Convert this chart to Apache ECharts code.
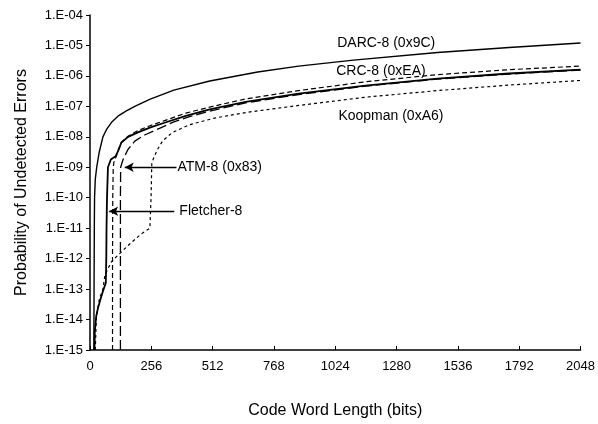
<!DOCTYPE html>
<html>
<head>
<meta charset="utf-8">
<script src="https://cdn.jsdelivr.net/npm/echarts@6/dist/echarts.min.js"></script>
<style>
  html, body { margin: 0; padding: 0; background: #fff; }
  #chart { width: 598px; height: 424px; }
</style>
</head>
<body>
<div id="chart"></div>
<script>
// code word length (bits) vs probability of undetected errors
const xTicks = [0, 256, 512, 768, 1024, 1280, 1536, 1792, 2048];

const darc = [
  [16, 1e-15], [17, 1e-13], [18, 1e-11], [19, 1e-10], [22, 4e-10], [28, 1e-9],
  [38, 3e-9], [54, 1e-8], [70, 1.8e-8], [90, 3e-8], [120, 5e-8], [150, 7e-8],
  [187, 1e-7], [249, 1.7e-7], [350, 3.4e-7], [500, 6.8e-7], [700, 1.35e-6],
  [871, 2.1e-6], [1100, 3.3e-6], [1451, 5.9e-6], [1750, 8.6e-6], [2048, 1.2e-5]
];
const fletcher = [
  [19, 1e-15], [20, 4e-15], [26, 1.3e-14], [34, 2.5e-14], [45, 5e-14], [55, 9e-14],
  [66, 1.6e-13], [68, 1e-12], [69, 1e-11], [71, 1e-10], [75, 1e-9], [87, 1.8e-9],
  [107, 2.3e-9], [117, 3.4e-9], [131, 6.5e-9], [159, 1e-8], [200, 1.4e-8],
  [250, 2e-8], [311, 2.9e-8], [400, 4.9e-8], [500, 8e-8], [650, 1.4e-7],
  [871, 2.6e-7], [1150, 4.8e-7], [1451, 8.2e-7], [1750, 1.2e-6], [2048, 1.6e-6]
];
const crc = [
  [94, 1e-15], [94, 1e-12], [95, 1e-10], [97, 1e-9], [100, 1.5e-9], [107, 2e-9],
  [117, 3.4e-9], [131, 6.5e-9], [159, 1.05e-8], [200, 1.6e-8], [250, 2.3e-8],
  [311, 3.4e-8], [400, 6e-8], [500, 9.5e-8], [650, 1.75e-7], [871, 3.3e-7],
  [1150, 6.4e-7], [1451, 1.1e-6], [1750, 1.6e-6], [2048, 2.1e-6]
];
const atm = [
  [127, 1e-15], [127, 1e-12], [127, 1e-10], [128, 1e-9], [138, 1.8e-9],
  [159, 3.9e-9], [187, 7.2e-9], [228, 1.15e-8], [290, 1.9e-8], [350, 3.1e-8],
  [415, 4.6e-8], [500, 7e-8], [650, 1.3e-7], [871, 2.45e-7], [1150, 4.6e-7],
  [1451, 7.9e-7], [1750, 1.15e-6], [2048, 1.55e-6]
];
const koopman = [
  [22, 1e-15], [24, 3e-15], [26, 1e-14], [33, 2.5e-14], [40, 5e-14], [54, 1e-13],
  [62, 2.8e-13], [75, 4.7e-13], [90, 8e-13], [102, 1e-12], [117, 1.3e-12],
  [159, 2.7e-12], [214, 6.5e-12], [250, 1e-11], [255, 1e-10], [258, 1.4e-9],
  [270, 2.4e-9], [283, 4e-9], [304, 7.5e-9], [345, 1.4e-8], [415, 2.5e-8],
  [525, 4.2e-8], [663, 6.5e-8], [871, 1.07e-7], [1150, 2e-7], [1451, 3.3e-7],
  [1750, 5e-7], [2048, 7.1e-7]
];

// label text anchored at data coordinates
const labels = [
  { text: 'DARC-8 (0x9C)', at: [1032, 1.2e-5] },
  { text: 'CRC-8 (0xEA)', at: [1028, 1.4e-6] },
  { text: 'Koopman (0xA6)', at: [1037, 4.7e-8] },
  { text: 'ATM-8 (0x83)', at: [365, 1e-9] },
  { text: 'Fletcher-8', at: [373, 3.6e-11] }
];
const arrows = [
  { from: [361, 1e-9], to: [145, 1e-9] },
  { from: [352, 3.6e-11], to: [80, 3.6e-11] }
];

const font = 'Liberation Sans, Arial, sans-serif';

function expLabel(v) {
  const e = Math.round(Math.log10(v));
  return '1.E' + (e < 0 ? '-' : '+') + String(Math.abs(e)).padStart(2, '0');
}

function lineSeries(name, data, type, width) {
  return {
    name,
    type: 'line',
    data,
    showSymbol: false,
    symbol: 'none',
    smooth: false,
    lineStyle: { color: '#000', width, type, join: 'round' },
    silent: true
  };
}

const chart = echarts.init(document.getElementById('chart'));

const atmSeries = lineSeries('ATM-8 (0x83)', atm, [10, 4], 1.3);
atmSeries.markLine = {
  silent: true,
  symbolSize: [7, 9],
  lineStyle: { color: '#000', width: 1.3, type: 'solid' },
  label: { show: false },
  data: arrows.map(a => [
    { coord: a.from, symbol: 'none' },
    { coord: a.to, symbol: 'arrow' }
  ])
};

chart.setOption({
  animation: false,
  grid: { left: 90, right: 14, top: 15, bottom: 73 },
  xAxis: {
    type: 'value',
    min: 0,
    max: 2048,
    interval: 256,
    name: 'Code Word Length (bits)',
    nameLocation: 'middle',
    nameGap: 53,
    nameTextStyle: { fontFamily: font, fontSize: 16, color: '#000' },
    axisLine: { lineStyle: { color: '#000', width: 1.5 } },
    axisTick: { inside: true, length: 4, lineStyle: { color: '#000' } },
    axisLabel: { fontFamily: font, fontSize: 13, color: '#000', margin: 10,
      formatter: v => (xTicks.indexOf(v) >= 0 ? String(v) : '') },
    splitLine: { show: false }
  },
  yAxis: {
    type: 'log',
    logBase: 10,
    min: 1e-15,
    max: 1e-4,
    interval: 1,
    name: 'Probability of Undetected Errors',
    nameLocation: 'middle',
    nameGap: 60,
    nameTextStyle: { fontFamily: font, fontSize: 16, color: '#000' },
    axisLine: { show: true, lineStyle: { color: '#000', width: 1.5 } },
    axisTick: { show: true, length: 4, lineStyle: { color: '#000' } },
    minorTick: { show: false },
    axisLabel: { fontFamily: font, fontSize: 13, color: '#000', margin: 7, formatter: expLabel },
    splitLine: { show: false }
  },
  series: [
    lineSeries('DARC-8 (0x9C)', darc, 'solid', 1.4),
    lineSeries('Koopman (0xA6)', koopman, [3, 3], 1.2),
    lineSeries('CRC-8 (0xEA)', crc, [5, 3], 1.2),
    atmSeries,
    lineSeries('Fletcher-8', fletcher, 'solid', 1.8)
  ]
});

chart.setOption({
  graphic: labels.map(l => {
    const p = chart.convertToPixel({ gridIndex: 0 }, l.at);
    return {
      type: 'text',
      x: p[0],
      y: p[1],
      silent: true,
      style: {
        text: l.text,
        fontFamily: font,
        fontSize: 14,
        fill: '#000',
        verticalAlign: 'middle',
        align: 'left'
      }
    };
  })
});
</script>
</body>
</html>
